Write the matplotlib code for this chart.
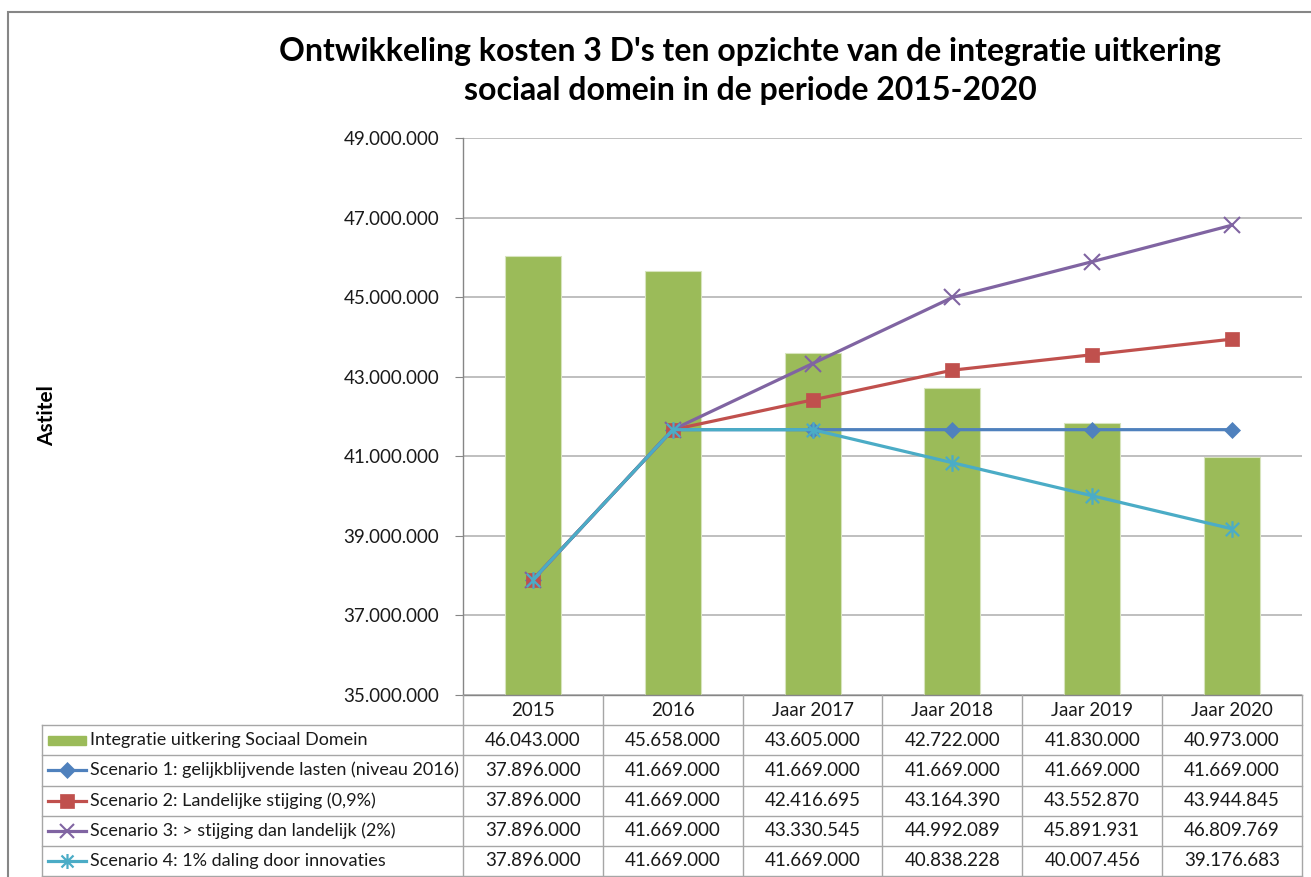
import matplotlib
matplotlib.use('Agg')  # Non-interactive backend
import matplotlib.pyplot as plt
import matplotlib.ticker as ticker
import matplotlib.transforms as mtransforms
from matplotlib.lines import Line2D
from matplotlib.patches import Rectangle
from matplotlib.path import Path

plt.rcParams['font.family'] = ['Lato', 'DejaVu Sans']

# data
years = ['2015', '2016', 'Jaar 2017', 'Jaar 2018', 'Jaar 2019', 'Jaar 2020']
uitkering = [46043000, 45658000, 43605000, 42722000, 41830000, 40973000]
scenario1 = [37896000, 41669000, 41669000, 41669000, 41669000, 41669000]
scenario2 = [37896000, 41669000, 42416695, 43164390, 43552870, 43944845]
scenario3 = [37896000, 41669000, 43330545, 44992089, 45891931, 46809769]
scenario4 = [37896000, 41669000, 41669000, 40838228, 40007456, 39176683]
y_ticks = [35000000, 37000000, 39000000, 41000000, 43000000, 45000000, 47000000, 49000000]

series_labels = [
    'Integratie uitkering Sociaal Domein',
    'Scenario 1: gelijkblijvende lasten (niveau 2016)',
    'Scenario 2: Landelijke stijging (0,9%)',
    'Scenario 3: > stijging dan landelijk (2%)',
    'Scenario 4: 1% daling door innovaties',
]
title = ("Ontwikkeling kosten 3 D's ten opzichte van de integratie uitkering\n"
         "sociaal domein in de periode 2015-2020")

W, H = 1311, 877


def fx(px):
    return px / W


def fy(py):
    return 1 - py / H


def fmt(v):
    return f'{v:,.0f}'.replace(',', '.')


# Excel style "star" marker: an x with a vertical stroke
star = Path([(-1, -1), (1, 1), (-1, 1), (1, -1), (0, -1.25), (0, 1.25)],
            [Path.MOVETO, Path.LINETO, Path.MOVETO, Path.LINETO, Path.MOVETO, Path.LINETO])

line_styles = [
    dict(color='#4F81BD', marker='D', ms=8.5, mew=0.5),
    dict(color='#C0504D', marker='s', ms=10.5, mew=0.5),
    dict(color='#8064A2', marker='x', ms=11, mew=1.5),
    dict(color='#4BACC6', marker=star, ms=12, mew=1.6),
]
bar_color = '#9BBB59'
text_color = '#1a1a1a'
table_color = '#A6A6A6'

fig = plt.figure(figsize=(13.11, 8.77), dpi=100)
fig.patch.set_facecolor('white')

# outer chart border (clipped at right/bottom like the screenshot)
fig.add_artist(Rectangle((fx(8), fy(900)), fx(1400) - fx(8), fy(12) - fy(900),
                         transform=fig.transFigure, fill=False, ec='#868686', lw=1.5))

ax = fig.add_axes([fx(463), fy(695), fx(1302) - fx(463), fy(138) - fy(695)])
x = list(range(len(years)))

ax.bar(x, uitkering, width=0.4, color=bar_color, edgecolor='#D7E4BD', linewidth=0.8, zorder=2)
for vals, st in zip([scenario1, scenario2, scenario3, scenario4], line_styles):
    ax.plot(x, vals, color=st['color'], lw=2.3, marker=st['marker'], ms=st['ms'],
            mfc=st['color'], mec=st['color'], mew=st['mew'], zorder=3)

ax.set_xlim(-0.5, len(years) - 0.5)
ax.set_ylim(y_ticks[0], y_ticks[-1])
ax.yaxis.set_major_locator(ticker.FixedLocator(y_ticks))
ax.yaxis.set_major_formatter(ticker.FuncFormatter(lambda v, p: fmt(v)))
ax.set_xticks([])
ax.tick_params(axis='y', length=6, color='#868686', pad=11, labelsize=13.5, labelcolor=text_color)
ax.yaxis.grid(True, color='#BFBFBF', lw=1.4)
ax.set_axisbelow(True)
for s in ['top', 'right']:
    ax.spines[s].set_visible(False)
for s in ['left', 'bottom']:
    ax.spines[s].set_color('#868686')
    ax.spines[s].set_linewidth(1.0)

fig.text(fx(750), fy(71), title, ha='center', va='center', fontsize=23,
         fontweight='bold', color='black', linespacing=1.42)
fig.text(fx(47), fy(416), 'Astitel', rotation=90, ha='center', va='center',
         fontsize=15, fontweight='bold', color='black')

# data table below the plot
trans = mtransforms.blended_transform_factory(ax.transData, fig.transFigure)
row_lines = [725, 755, 786, 816, 846, 876]
row_mid = [740, 770, 801, 831, 861]
for yl in row_lines:
    fig.add_artist(Line2D([fx(42), fx(1302)], [fy(yl), fy(yl)], transform=fig.transFigure,
                          color=table_color, lw=1.0))
fig.add_artist(Line2D([fx(42), fx(42)], [fy(725), fy(876)], transform=fig.transFigure,
                      color=table_color, lw=1.0))
for k in range(len(years) + 1):
    fig.add_artist(Line2D([k - 0.5, k - 0.5], [fy(695), fy(876)], transform=trans,
                          color=table_color, lw=1.0))

for i, yr in enumerate(years):
    fig.text(i, fy(710), yr, transform=trans, ha='center', va='center',
             fontsize=13.5, color=text_color)

table_rows = [uitkering, scenario1, scenario2, scenario3, scenario4]
for r, (vals, lab) in enumerate(zip(table_rows, series_labels)):
    ym = fy(row_mid[r])
    fig.text(fx(90), ym, lab, ha='left', va='center', fontsize=13, color=text_color)
    for i, v in enumerate(vals):
        fig.text(i, ym, fmt(v), transform=trans, ha='center', va='center',
                 fontsize=13.5, color=text_color)

# legend keys
fig.add_artist(Rectangle((fx(48), fy(745)), fx(86) - fx(48), fy(736) - fy(745),
                         transform=fig.transFigure, color=bar_color))
for r, st in enumerate(line_styles):
    ym = fy(row_mid[r + 1])
    fig.add_artist(Line2D([fx(48), fx(86)], [ym, ym], transform=fig.transFigure,
                          color=st['color'], lw=2.3))
    fig.add_artist(Line2D([fx(67)], [ym], transform=fig.transFigure, marker=st['marker'],
                          ms=st['ms'] * 0.9, mfc=st['color'], mec=st['color'],
                          mew=st['mew'], linestyle='none'))

fig.savefig('out.png', dpi=100, facecolor='white')
plt.close(fig)
